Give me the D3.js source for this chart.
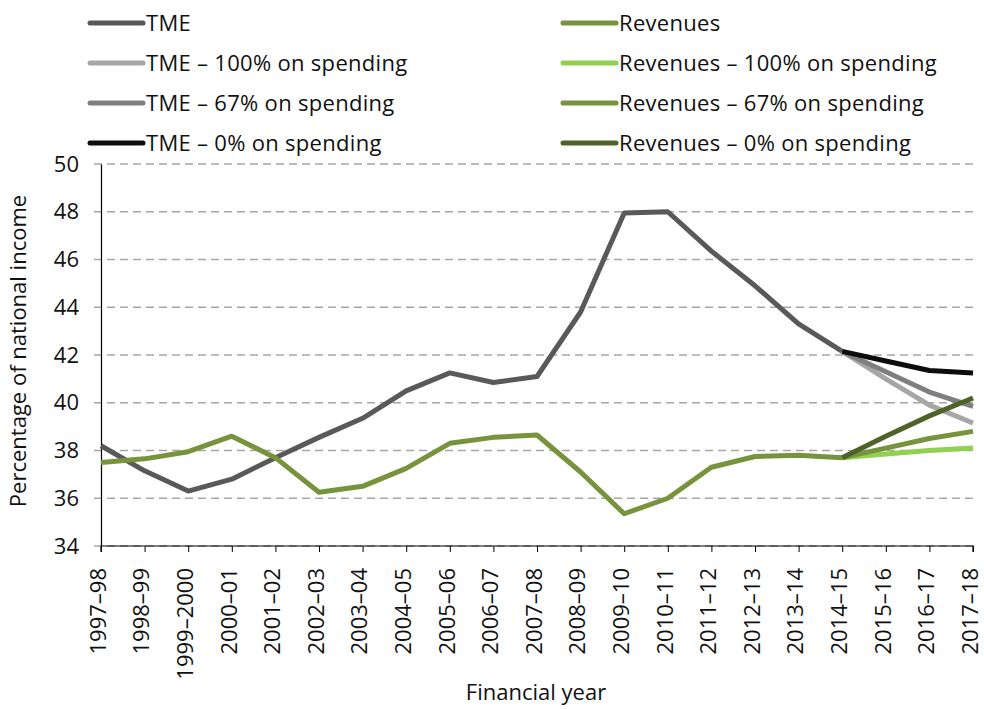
<!DOCTYPE html>
<html>
<head>
<meta charset="utf-8">
<script src="https://cdn.jsdelivr.net/npm/d3@7"></script>
<style>
  body { margin: 0; background: #fff; }
  svg text { font-family: "Open Sans", "Noto Sans", sans-serif; fill: #111; }
</style>
</head>
<body>
<svg id="chart" width="984" height="709"></svg>
<script>
const years = ["1997–98", "1998–99", "1999–2000", "2000–01", "2001–02", "2002–03", "2003–04",
  "2004–05", "2005–06", "2006–07", "2007–08", "2008–09", "2009–10", "2010–11", "2011–12",
  "2012–13", "2013–14", "2014–15", "2015–16", "2016–17", "2017–18"];

const yTicks = [34, 36, 38, 40, 42, 44, 46, 48, 50];

const tme = [38.2, 37.15, 36.3, 36.8, 37.7, 38.55, 39.35, 40.5, 41.25, 40.85, 41.1, 43.8,
  47.95, 48.0, 46.35, 44.9, 43.3, 42.15];
const revenues = [37.5, 37.65, 37.95, 38.6, 37.7, 36.25, 36.5, 37.25, 38.3, 38.55, 38.65, 37.1,
  35.35, 36.0, 37.3, 37.75, 37.8, 37.7];

// projections start at 2014–15
const projYears = years.slice(17);
const tme100 = [42.15, 41.0, 39.9, 39.15];
const tme67 = [42.15, 41.3, 40.45, 39.85];
const tme0 = [42.15, 41.75, 41.35, 41.25];
const rev100 = [37.7, 37.85, 38.0, 38.1];
const rev67 = [37.7, 38.1, 38.5, 38.8];
const rev0 = [37.7, 38.6, 39.45, 40.2];

const series = [
  { name: "TME", x: years, y: tme, color: "#595959" },
  { name: "Revenues", x: years, y: revenues, color: "#77933c" },
  { name: "TME – 100% on spending", x: projYears, y: tme100, color: "#a6a6a6" },
  { name: "Revenues – 100% on spending", x: projYears, y: rev100, color: "#92d050" },
  { name: "TME – 67% on spending", x: projYears, y: tme67, color: "#7f7f7f" },
  { name: "Revenues – 67% on spending", x: projYears, y: rev67, color: "#77933c" },
  { name: "TME – 0% on spending", x: projYears, y: tme0, color: "#0d0d0d" },
  { name: "Revenues – 0% on spending", x: projYears, y: rev0, color: "#4f6228" }
];

const svg = d3.select("#chart");
const margin = { left: 101, right: 11, top: 164, bottom: 163 };
const width = 984 - margin.left - margin.right;
const height = 709 - margin.top - margin.bottom;
const fontSize = "22px";

const x = d3.scalePoint().domain(years).range([0, width]);
const y = d3.scaleLinear().domain([34, 50]).range([height, 0]);

const g = svg.append("g").attr("transform", `translate(${margin.left},${margin.top})`);

// gridlines
g.selectAll(".grid").data(yTicks).enter().append("line")
  .attr("x1", -7).attr("x2", width)
  .attr("y1", (d) => y(d)).attr("y2", (d) => y(d))
  .attr("stroke", "#a6a6a6").attr("stroke-width", 1.5)
  .attr("stroke-dasharray", "8,5");

// y axis
const yAxis = g.append("g").call(d3.axisLeft(y).tickValues(yTicks).tickSize(0).tickPadding(22));
yAxis.select(".domain").attr("stroke", "#000").attr("stroke-width", 1.2);
yAxis.selectAll("text").style("font-size", fontSize);

// x axis
const xAxis = g.append("g").attr("transform", `translate(0,${height})`)
  .call(d3.axisBottom(x).tickSize(6).tickPadding(0));
xAxis.select(".domain").attr("stroke", "#000").attr("stroke-width", 1.2).attr("d", `M0,6V0H${width}V6`);
xAxis.selectAll(".tick line").attr("stroke", "#000");
xAxis.selectAll("text")
  .style("font-size", fontSize)
  .attr("text-anchor", "end")
  .attr("transform", "rotate(-90)")
  .attr("x", -22).attr("y", -3.5).attr("dy", "0.35em");

// lines
const line = d3.line().x((d) => x(d[0])).y((d) => y(d[1]));
const drawOrder = [0, 1, 2, 4, 6, 3, 5, 7];
drawOrder.forEach((i) => {
  const s = series[i];
  g.append("path")
    .datum(s.x.slice(0, s.y.length).map((yr, j) => [yr, s.y[j]]))
    .attr("fill", "none")
    .attr("stroke", s.color)
    .attr("stroke-width", 5)
    .attr("stroke-linejoin", "round")
    .attr("d", line);
});

// legend
const legend = svg.append("g");
series.forEach((s, i) => {
  const col = i % 2;
  const row = Math.floor(i / 2);
  const lx = col === 0 ? 90 : 563;
  const ly = 23 + row * 40;
  legend.append("line")
    .attr("x1", lx).attr("x2", lx + 53).attr("y1", ly).attr("y2", ly)
    .attr("stroke", s.color).attr("stroke-width", 5).attr("stroke-linecap", "round");
  legend.append("text")
    .attr("x", lx + 56).attr("y", ly).attr("dy", "0.35em")
    .style("font-size", fontSize)
    .style("letter-spacing", "0.3px")
    .text(s.name);
});

// axis titles
svg.append("text")
  .attr("transform", `translate(26,${margin.top + height / 2 - 4}) rotate(-90)`)
  .attr("text-anchor", "middle")
  .style("font-size", fontSize)
  .text("Percentage of national income");

svg.append("text")
  .attr("x", margin.left + width / 2 - 1).attr("y", 700)
  .attr("text-anchor", "middle")
  .style("font-size", fontSize)
  .text("Financial year");
</script>
</body>
</html>
